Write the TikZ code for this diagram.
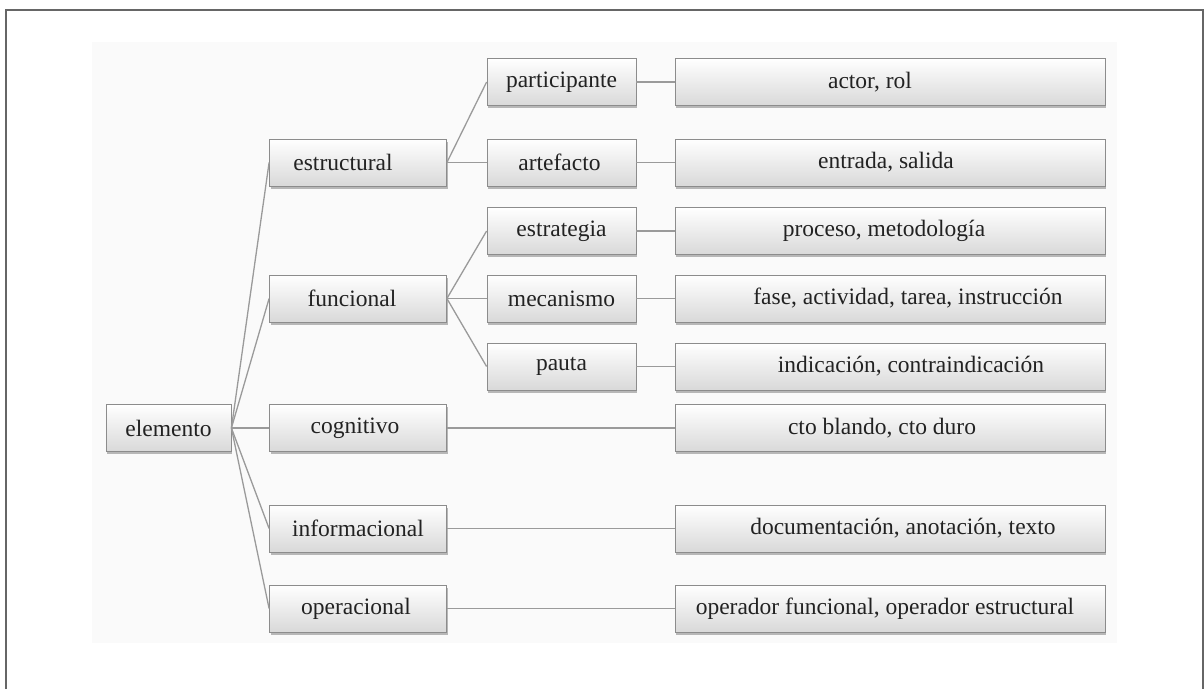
\documentclass[tikz,border=0pt]{standalone}
\usepackage{fontspec}
\setmainfont{Liberation Serif}
\newfontfamily\diagfont{Liberation Serif}
\usetikzlibrary{shadows}
\definecolor{framegray}{HTML}{666666}
\definecolor{linegray}{HTML}{9A9A9A}
\definecolor{boxborder}{HTML}{8C8C8C}
\definecolor{bgpanel}{HTML}{FAFAFA}
\definecolor{txt}{HTML}{222222}
\begin{document}
\begin{tikzpicture}[x=1pt,y=-1pt,
  box/.style={rectangle, draw=boxborder, line width=0.8pt, top color=white, bottom color=black!15,
    drop shadow={shadow xshift=1pt, shadow yshift=-2.5pt, opacity=0.45, fill=black!60},
    minimum height=47pt, inner sep=0pt, font=\diagfont\fontsize{23.5}{26}\selectfont, text=txt},
  rootbox/.style={box, minimum width=125pt},
  lbox/.style={box, minimum width=177pt},
  mbox/.style={box, minimum width=149pt},
  rbox/.style={box, minimum width=430pt},
  conn/.style={draw=linegray, line width=1.3pt}]
\useasboundingbox (0,0) rectangle (1204,689);
\fill[bgpanel] (92,42) rectangle (1117,643);
\draw[framegray, line width=2pt] (6,689) -- (6,10) -- (1203,10) -- (1203,689);

% root
\node[rootbox] (elemento) at (168.5,428) {elemento};
% level 1
\node[lbox] (estructural) at (358,162.5) {estructural\hspace*{30pt}};
\node[lbox] (funcional) at (358,298.5) {funcional\hspace*{12pt}};
\node[lbox] (cognitivo) at (358,428) {cognitivo\hspace*{6pt}};
\node[lbox] (informacional) at (358,528.5) {informacional};
\node[lbox] (operacional) at (358,608.5) {operacional\hspace*{4pt}};
% level 2
\node[mbox] (participante) at (561.5,82) {participante};
\node[mbox] (artefacto) at (561.5,162.5) {artefacto\hspace*{4pt}};
\node[mbox] (estrategia) at (561.5,231) {estrategia};
\node[mbox] (mecanismo) at (561.5,298.5) {mecanismo};
\node[mbox] (pauta) at (561.5,366.5) {pauta};
% level 3
\node[rbox] (actor) at (890,82) {actor, rol\hspace*{40pt}};
\node[rbox] (entrada) at (890,162.5) {entrada, salida\hspace*{8pt}};
\node[rbox] (proceso) at (890,231) {proceso, metodología\hspace*{12pt}};
\node[rbox] (fase) at (890,298.5) {\hspace*{36pt}fase, actividad, tarea, instrucción};
\node[rbox] (indicacion) at (890,366.5) {\hspace*{42pt}indicación, contraindicación};
\node[rbox] (cto) at (890,428) {cto blando, cto duro\hspace*{16pt}};
\node[rbox] (documentacion) at (890,528.5) {\hspace*{26pt}documentación, anotación, texto};
\node[rbox] (operador) at (890,608.5) {operador funcional, operador estructural\hspace*{10pt}};

% connectors
\draw[conn] (elemento.east) -- (estructural.west);
\draw[conn] (elemento.east) -- (funcional.west);
\draw[conn] (elemento.east) -- (cognitivo.west);
\draw[conn] (elemento.east) -- (informacional.west);
\draw[conn] (elemento.east) -- (operacional.west);
\draw[conn] (estructural.east) -- (participante.west);
\draw[conn] (estructural.east) -- (artefacto.west);
\draw[conn] (funcional.east) -- (estrategia.west);
\draw[conn] (funcional.east) -- (mecanismo.west);
\draw[conn] (funcional.east) -- (pauta.west);
\draw[conn] (participante.east) -- (actor.west);
\draw[conn] (artefacto.east) -- (entrada.west);
\draw[conn] (estrategia.east) -- (proceso.west);
\draw[conn] (mecanismo.east) -- (fase.west);
\draw[conn] (pauta.east) -- (indicacion.west);
\draw[conn] (cognitivo.east) -- (cto.west);
\draw[conn] (informacional.east) -- (documentacion.west);
\draw[conn] (operacional.east) -- (operador.west);
\end{tikzpicture}
\end{document}
